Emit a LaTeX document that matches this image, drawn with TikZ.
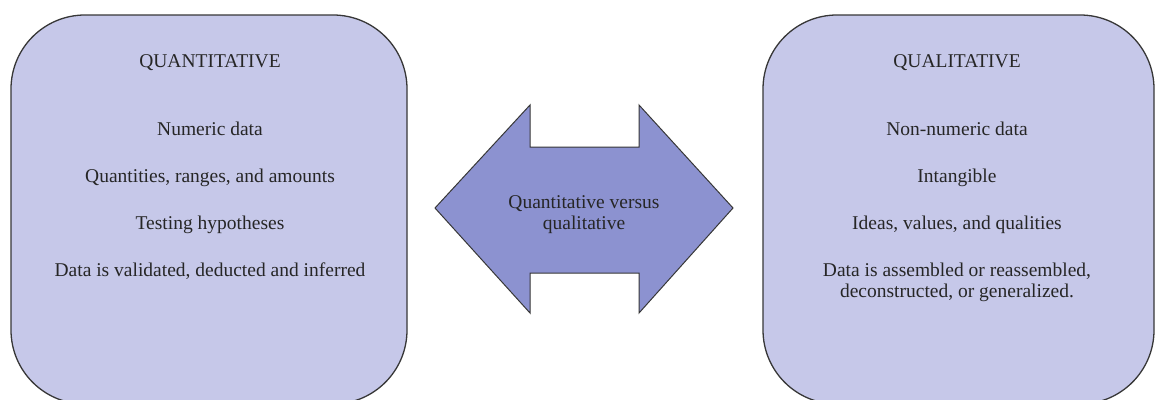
\documentclass[tikz,border=0pt]{standalone}
\usepackage{fontspec}
\setmainfont{Liberation Serif}
\newfontfamily\timesfont{Liberation Serif}
\definecolor{panelfill}{RGB}{198,200,233}
\definecolor{arrowfill}{RGB}{140,146,208}
\definecolor{edgegray}{RGB}{55,55,55}
\tikzset{
  panel/.style={draw=edgegray, line width=1.3pt, fill=panelfill, rounded corners=74pt},
  bigarrow/.style={draw=edgegray, line width=1pt, fill=arrowfill},
  txt/.style={anchor=base, inner sep=0pt, text=black!85, font=\timesfont\fontsize{19.5}{21}\selectfont, align=center},
}
\begin{document}
\begin{tikzpicture}[x=1pt,y=-1pt]
\useasboundingbox (0,0) rectangle (1155,399);
\clip (0,0) rectangle (1155,399);

% two rounded panels
\path[panel] (11,15) rectangle (407,404);
\path[panel] (763,15) rectangle (1154,404);

% double-headed arrow between them
\path[bigarrow] (435,208) -- (530,105) -- (530,147) -- (639,147) -- (639,105)
  -- (733,208) -- (639,313) -- (639,273) -- (530,273) -- (530,313) -- cycle;

% left panel text
\node[txt] (qtitle) at (210,67)  {QUANTITATIVE};
\node[txt] (q1)     at (210,135) {Numeric data};
\node[txt] (q2)     at (210,182) {Quantities, ranges, and amounts};
\node[txt] (q3)     at (210,229) {Testing hypotheses};
\node[txt] (q4)     at (210,276) {Data is validated, deducted and inferred};

% centre text (base anchor sits on the last line)
\node[txt] (mid)    at (584,229) {Quantitative versus\\qualitative};

% right panel text
\node[txt] (ltitle) at (957,67)  {QUALITATIVE};
\node[txt] (l1)     at (957,135) {Non-numeric data};
\node[txt] (l2)     at (957,182) {Intangible};
\node[txt] (l3)     at (957,229) {Ideas, values, and qualities};
\node[txt] (l4)     at (957,297) {Data is assembled or reassembled,\\deconstructed, or generalized.};
\end{tikzpicture}
\end{document}
